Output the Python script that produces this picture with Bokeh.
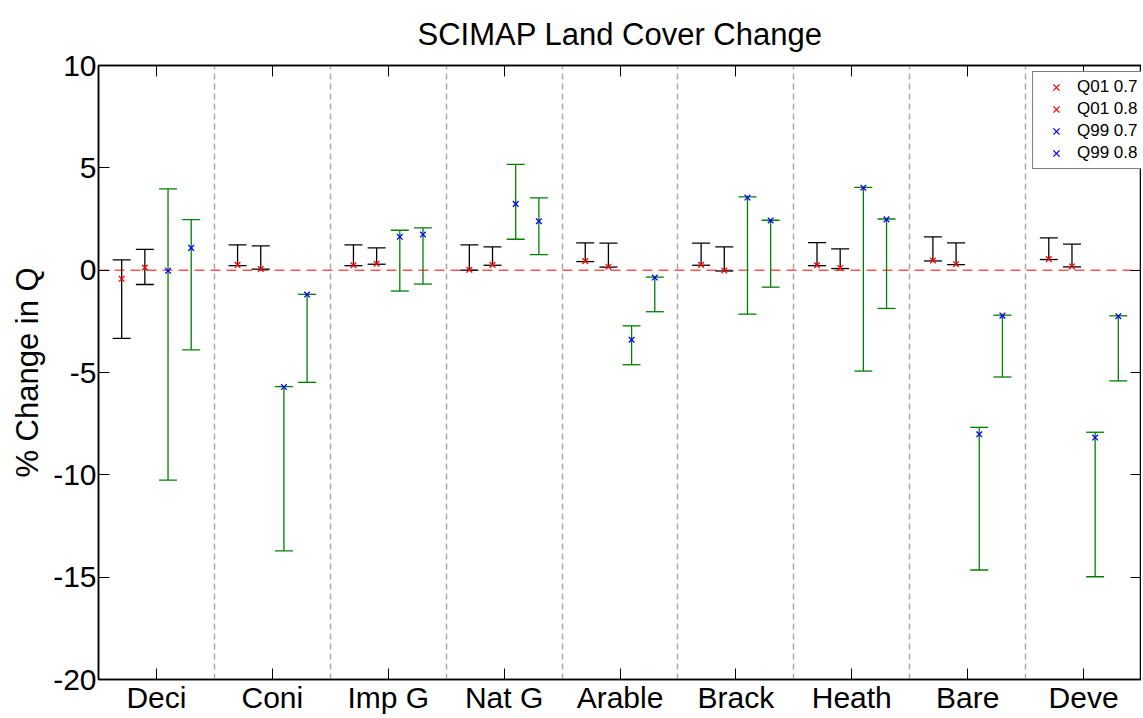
import numpy as np
from bokeh.plotting import figure
from bokeh.models import (Range1d, FixedTicker, LinearAxis, Whisker, TeeHead,
                          ColumnDataSource, Span)
from bokeh.embed import file_html
from bokeh.resources import INLINE

# ---------------- data ----------------
categories = ["Deci", "Coni", "Imp G", "Nat G", "Arable", "Brack", "Heath", "Bare", "Deve"]
series_names = ["Q01 0.7", "Q01 0.8", "Q99 0.7", "Q99 0.8"]

q01_07_mid = [-0.42, 0.26, 0.24, 0.02, 0.44, 0.26, 0.24, 0.47, 0.54]
q01_07_lo = [-3.33, 0.22, 0.22, 0.00, 0.42, 0.24, 0.22, 0.45, 0.52]
q01_07_hi = [0.50, 1.24, 1.24, 1.24, 1.33, 1.32, 1.35, 1.63, 1.58]

q01_08_mid = [0.13, 0.06, 0.31, 0.26, 0.17, -0.02, 0.11, 0.29, 0.18]
q01_08_lo = [-0.70, 0.05, 0.29, 0.24, 0.15, -0.04, 0.08, 0.27, 0.16]
q01_08_hi = [1.02, 1.19, 1.09, 1.14, 1.32, 1.14, 1.04, 1.33, 1.27]

q99_07_mid = [-0.03, -5.71, 1.63, 3.24, -3.40, 3.55, 4.03, -8.02, -8.18]
q99_07_lo = [-10.26, -13.72, -1.02, 1.51, -4.62, -2.15, -4.93, -14.65, -14.98]
q99_07_hi = [3.97, -5.69, 1.95, 5.17, -2.72, 3.58, 4.05, -7.68, -7.92]

q99_08_mid = [1.09, -1.19, 1.74, 2.39, -0.36, 2.43, 2.48, -2.22, -2.25]
q99_08_lo = [-3.89, -5.48, -0.68, 0.76, -2.03, -0.83, -1.87, -5.22, -5.41]
q99_08_hi = [2.47, -1.18, 2.07, 3.53, -0.34, 2.44, 2.50, -2.20, -2.23]

y_ticks = [-20, -15, -10, -5, 0, 5, 10]

# ---------------- layout / style ----------------
FONT = "Liberation Sans"
offsets = [-0.3, -0.1, 0.1, 0.3]
bar_colors = ["black", "black", "green", "green"]
marker_colors = ["red", "red", "blue", "blue"]

series = [
    (q01_07_mid, q01_07_lo, q01_07_hi),
    (q01_08_mid, q01_08_lo, q01_08_hi),
    (q99_07_mid, q99_07_lo, q99_07_hi),
    (q99_08_mid, q99_08_lo, q99_08_hi),
]

n = len(categories)
base_x = np.arange(1, n + 1)

FW, FH = 1043, 614
p = figure(frame_width=FW, frame_height=FH,
           x_range=Range1d(0.5, n + 0.5), y_range=Range1d(-20, 10),
           output_backend="svg", toolbar_location=None,
           title="SCIMAP Land Cover Change",
           min_border_left=98, min_border_right=0, min_border_top=65, min_border_bottom=0)

p.background_fill_color = "white"
p.border_fill_color = "white"
p.outline_line_color = "black"
p.outline_line_width = 1.5

p.title.align = "center"
p.title.text_font = FONT
p.title.text_font_size = "31px"
p.title.text_font_style = "normal"
p.title.text_color = "black"
p.title.standoff = 27

# axes
xax = p.xaxis[0]
xax.ticker = FixedTicker(ticks=[int(v) for v in base_x])
xax.major_label_overrides = {int(i): c for i, c in zip(base_x, categories)}
yax = p.yaxis[0]
yax.ticker = FixedTicker(ticks=y_ticks)
yax.major_label_overrides = {t: str(t) for t in y_ticks}
yax.axis_label = "% Change in Q"
yax.axis_label_text_font = FONT
yax.axis_label_text_font_size = "31px"
yax.axis_label_text_font_style = "normal"
yax.axis_label_text_color = "black"
yax.axis_label_standoff = 5

for ax in (xax, yax):
    ax.major_label_text_font = FONT
    ax.major_label_text_font_size = "30px"
    ax.major_label_text_color = "black"
    ax.major_tick_in = 11
    ax.major_tick_out = 0
    ax.minor_tick_in = 0
    ax.minor_tick_out = 0
    ax.axis_line_color = "black"
    ax.axis_line_width = 1.5
    ax.major_tick_line_color = "black"
xax.major_label_standoff = 1
yax.major_label_standoff = 2

top_ax = LinearAxis(ticker=FixedTicker(ticks=[int(v) for v in base_x]),
                    major_label_overrides={int(v): "" for v in base_x},
                    major_tick_in=11, major_tick_out=0, minor_tick_in=0, minor_tick_out=0,
                    major_label_standoff=0, axis_line_width=1.5, axis_line_color="black")
right_ax = LinearAxis(ticker=FixedTicker(ticks=y_ticks),
                      major_label_overrides={t: "" for t in y_ticks},
                      major_tick_in=11, major_tick_out=0, minor_tick_in=0, minor_tick_out=0,
                      major_label_standoff=0, axis_line_width=1.5, axis_line_color="black")
p.add_layout(top_ax, "above")
p.add_layout(right_ax, "right")

# grids: dashed separators between categories
p.ygrid.grid_line_color = None
p.xgrid.ticker = FixedTicker(ticks=list(base_x[:-1] + 0.5))
p.xgrid.grid_line_color = "#a8a8a8"
p.xgrid.grid_line_dash = "6 4"
p.xgrid.grid_line_width = 1.5

# zero line
p.add_layout(Span(location=0, dimension="width", line_color="#ff5555",
                  line_dash="10 6", line_width=1.5, level="underlay"))

# error bars + markers
for (mid, lo, hi), off, bc, mc, name in zip(series, offsets, bar_colors, marker_colors, series_names):
    src = ColumnDataSource(dict(x=base_x + off, mid=mid, lo=lo, hi=hi))
    w = Whisker(source=src, base="x", upper="hi", lower="lo", dimension="height",
                line_color=bc, line_width=1.3,
                upper_head=TeeHead(size=18, line_color=bc, line_width=1.3),
                lower_head=TeeHead(size=18, line_color=bc, line_width=1.3),
                level="underlay")
    p.add_layout(w)
    p.scatter("x", "mid", source=src, marker="x", size=8, line_width=1.3,
              color=mc, legend_label=name)

leg = p.legend[0]
leg.location = (FW - 1 - 108, FH - 8 - 96)
leg.label_text_font = FONT
leg.label_text_font_size = "17px"
leg.label_text_color = "black"
leg.label_height = 22
leg.glyph_height = 22
leg.glyph_width = 38
leg.label_standoff = 2
leg.padding = 4
leg.spacing = 0
leg.margin = 0
leg.border_line_color = "black"
leg.border_line_width = 1.5
leg.background_fill_alpha = 1.0

open("out.html", "w").write(file_html(p, INLINE))
